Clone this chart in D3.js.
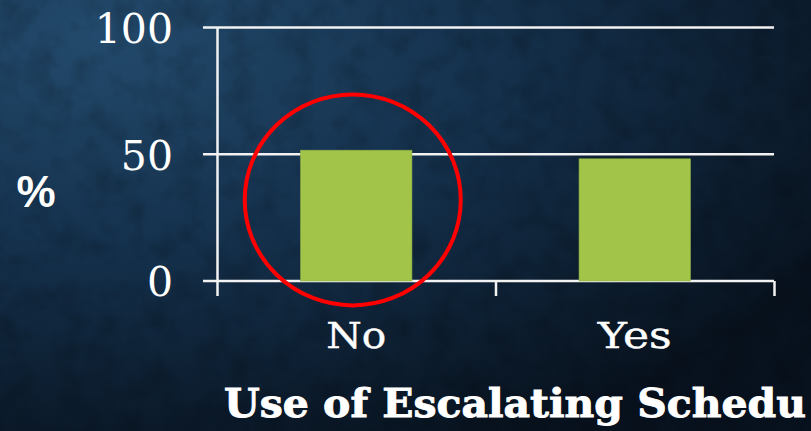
<!DOCTYPE html>
<html>
<head>
<meta charset="utf-8">
<script src="https://cdn.jsdelivr.net/npm/d3@7"></script>
<style>
  html, body { margin: 0; padding: 0; background: #0d1d2e; }
  svg { display: block; }
</style>
</head>
<body>
<div id="chart"></div>
<script>
const categories = ['No', 'Yes']
const values = [51.6, 48.2]
const yTicks = [0, 50, 100]
const yLabel = '%'
const xTitle = 'Use of Escalating Schedu'
const highlight = 'No'

const width = 811
const height = 431
const plotLeft = 217
const plotRight = 774
const plotTop = 27.5
const plotBottom = 281

const svg = d3.select('#chart')
  .append('svg')
  .attr('width', width)
  .attr('height', height)

const defs = svg.append('defs')

const grad = defs.append('radialGradient')
  .attr('id', 'bg')
  .attr('cx', '12%')
  .attr('cy', '8%')
  .attr('r', '105%')
grad.append('stop').attr('offset', '0%').attr('stop-color', '#234a6c')
grad.append('stop').attr('offset', '45%').attr('stop-color', '#15324e')
grad.append('stop').attr('offset', '100%').attr('stop-color', '#08121e')

// faint damask-like texture
const noise = defs.append('filter').attr('id', 'noise')
  .attr('x', 0).attr('y', 0).attr('width', '100%').attr('height', '100%')
noise.append('feTurbulence')
  .attr('type', 'fractalNoise')
  .attr('baseFrequency', 0.035)
  .attr('numOctaves', 3)
  .attr('seed', 4)
noise.append('feColorMatrix')
  .attr('type', 'matrix')
  .attr('values', '0 0 0 0 0  0 0 0 0 0  0 0 0 0 0  0 0 0 -1.1 0.62')

svg.append('rect')
  .attr('width', width)
  .attr('height', height)
  .attr('fill', 'url(#bg)')

svg.append('rect')
  .attr('width', width)
  .attr('height', height)
  .attr('filter', 'url(#noise)')
  .attr('opacity', 0.35)

const x = d3.scaleBand()
  .domain(categories)
  .range([plotLeft, plotRight])

const y = d3.scaleLinear()
  .domain([0, 100])
  .range([plotBottom, plotTop])

const barWidth = x.bandwidth() * 0.4

// gridlines
svg.append('g')
  .selectAll('line')
  .data(yTicks)
  .join('line')
  .attr('x1', plotLeft - 14)
  .attr('x2', plotRight)
  .attr('y1', d => y(d))
  .attr('y2', d => y(d))
  .attr('stroke', '#f2f2f2')
  .attr('stroke-width', 2.5)

// bars
svg.append('g')
  .selectAll('rect')
  .data(values)
  .join('rect')
  .attr('x', (d, i) => x(categories[i]) + (x.bandwidth() - barWidth) / 2)
  .attr('y', d => y(d))
  .attr('width', barWidth)
  .attr('height', d => y(0) - y(d))
  .attr('fill', '#a2c549')
  .attr('stroke', '#8fae45')
  .attr('stroke-width', 0.6)

// y axis
const yAxis = svg.append('g')
  .attr('transform', `translate(${plotLeft},0)`)
  .call(d3.axisLeft(y).tickValues(yTicks).tickSize(14).tickSizeOuter(0).tickPadding(30))
yAxis.select('.domain').attr('stroke', '#f2f2f2').attr('stroke-width', 2.5)
yAxis.selectAll('.tick line').remove()
yAxis.selectAll('.tick text')
  .attr('fill', '#ffffff')
  .attr('x', -44)
  .attr('dy', '0.36em')
  .style('font-family', '"DejaVu Serif", serif')
  .style('font-size', '41px')

// x tick marks at category boundaries
const edges = d3.scaleLinear().domain([0, categories.length]).range([plotLeft, plotRight])
const xTicksAxis = svg.append('g')
  .attr('transform', `translate(0,${plotBottom})`)
  .call(d3.axisBottom(edges).tickValues(d3.range(categories.length + 1)).tickSize(15).tickSizeOuter(0).tickFormat(''))
xTicksAxis.select('.domain').remove()
xTicksAxis.selectAll('.tick line').attr('stroke', '#f2f2f2').attr('stroke-width', 2.5)

// category labels
const xAxis = svg.append('g')
  .attr('transform', `translate(0,${plotBottom})`)
  .call(d3.axisBottom(x).tickSize(0).tickPadding(67))
xAxis.select('.domain').remove()
xAxis.selectAll('.tick text')
  .attr('fill', '#ffffff')
  .attr('stroke', '#ffffff')
  .attr('stroke-width', 0.4)
  .attr('dy', '0')
  .attr('textLength', d => d === 'No' ? 60 : 74)
  .attr('lengthAdjust', 'spacingAndGlyphs')
  .style('font-family', '"DejaVu Serif", serif')
  .style('font-size', '35px')

// y label
svg.append('text')
  .attr('x', 36)
  .attr('y', 191)
  .attr('dy', '0.36em')
  .attr('text-anchor', 'middle')
  .attr('fill', '#ffffff')
  .style('font-family', '"Liberation Sans", Arial, sans-serif')
  .style('font-weight', 'bold')
  .style('font-size', '44px')
  .text(yLabel)

// x title
svg.append('text')
  .attr('x', 224)
  .attr('y', 417)
  .attr('fill', '#ffffff')
  .attr('stroke', '#ffffff')
  .attr('stroke-width', 0.9)
  .attr('textLength', 582)
  .attr('lengthAdjust', 'spacingAndGlyphs')
  .style('font-family', '"DejaVu Serif", serif')
  .style('font-weight', 'bold')
  .style('font-size', '39px')
  .text(xTitle)

// highlight ring
svg.append('ellipse')
  .attr('cx', x(highlight) + x.bandwidth() / 2 - 3.5)
  .attr('cy', y(32))
  .attr('rx', 108)
  .attr('ry', 105.5)
  .attr('fill', 'none')
  .attr('stroke', '#ff0000')
  .attr('stroke-width', 4)
</script>
</body>
</html>
